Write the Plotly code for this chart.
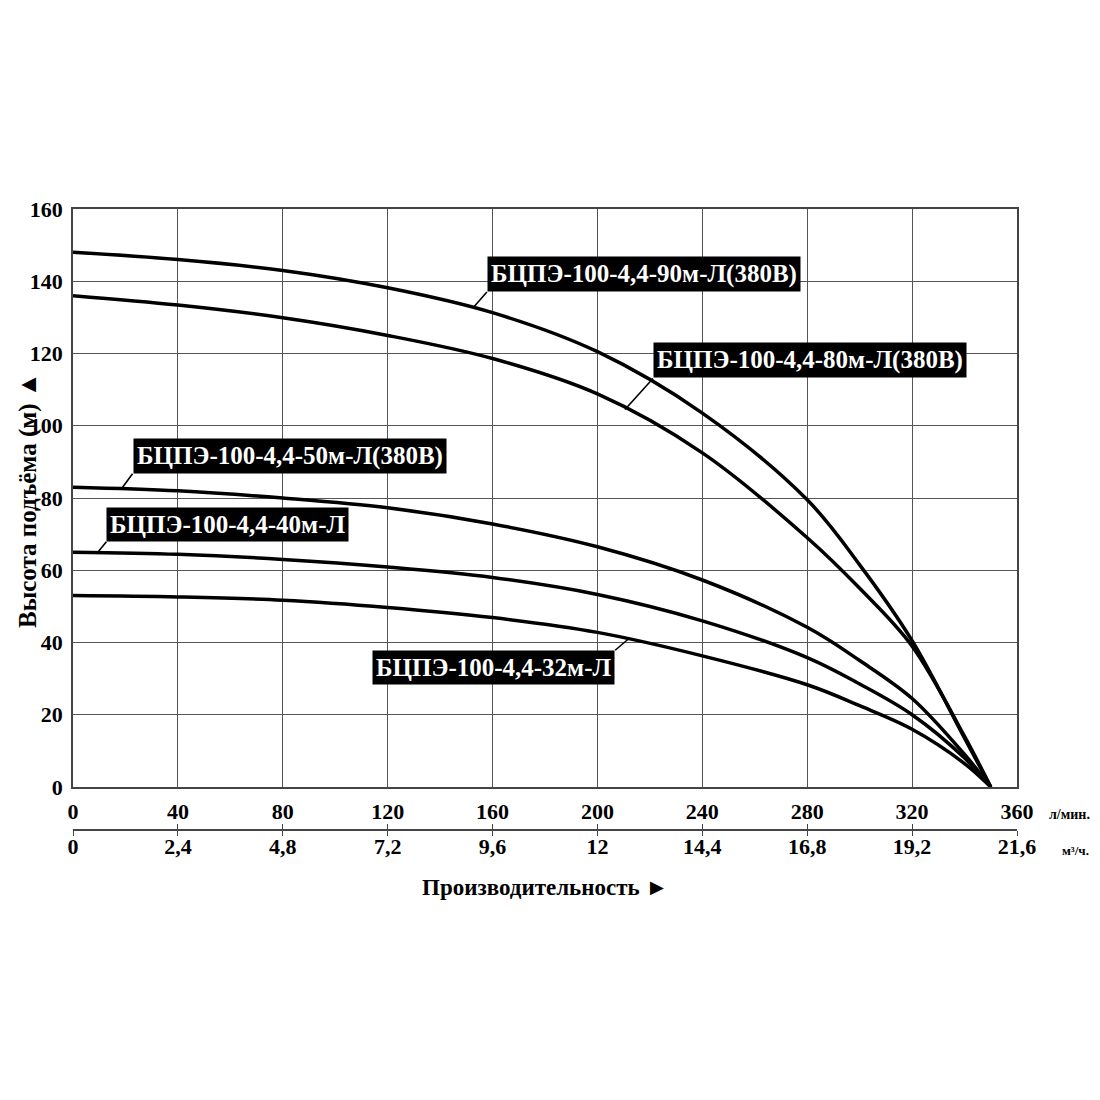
import numpy as np
import plotly.graph_objects as go

# flow, l/min
flow_lpm = [0, 40, 80, 120, 160, 200, 240, 280, 300, 320, 340, 350]

# head, m
head_90 = [148, 146, 143, 138.2, 131.3, 120.5, 103.5, 79.5, 61.5, 40.5, 13.5, 0]
head_80 = [136, 133.4, 129.9, 125, 118.6, 108.8, 92.5, 69, 55, 39, 14, 0]
head_50 = [83, 82, 80, 77.3, 72.8, 66.5, 57.3, 44.2, 35, 24.5, 9, 0]
head_40 = [65, 64.4, 63, 60.9, 58, 53.3, 46, 35.8, 28.5, 20, 8, 0]
head_32 = [53, 52.6, 51.7, 49.7, 46.9, 42.8, 36.3, 28.3, 22.5, 16, 6.5, 0]

names = ['БЦПЭ-100-4,4-90м-Л(380В)', 'БЦПЭ-100-4,4-80м-Л(380В)', 'БЦПЭ-100-4,4-50м-Л(380В)',
         'БЦПЭ-100-4,4-40м-Л', 'БЦПЭ-100-4,4-32м-Л']

lpm_ticks = [0, 40, 80, 120, 160, 200, 240, 280, 320, 360]
m3h_ticks = [0, 2.4, 4.8, 7.2, 9.6, 12, 14.4, 16.8, 19.2, 21.6]
m3h_labels = ['0', '2,4', '4,8', '7,2', '9,6', '12', '14,4', '16,8', '19,2', '21,6']
head_ticks = [0, 20, 40, 60, 80, 100, 120, 140, 160]

series = [head_90, head_80, head_50, head_40, head_32]

# label placement: (flow where the leader touches the curve, tail dx, tail dy, xanchor, yanchor)
label_pos = [
    (152.5, 14, -16, 'left', 'bottom'),
    (210.5, 28, -31, 'left', 'bottom'),
    (18.5, 11, -15, 'left', 'bottom'),
    (9.3, 9, -11, 'left', 'bottom'),
    (211.7, -13, 11, 'right', 'top'),
]

SERIF = 'Liberation Serif'
OFF = 8  # page body margin
W, H = 1092, 1084
L, T = 73 - OFF, 209 - OFF
R = W - (1017 - OFF)
B = H - (830 - OFF)  # paper spans screen px 209..830
PH = H - T - B
PW = W - L - R


def xp(sx):
    return (sx - OFF - L) / PW


def yp(sy):
    return (H - B - (sy - OFF)) / PH


fig = go.Figure()
for h in series:
    fig.add_trace(go.Scatter(x=flow_lpm, y=h, mode='lines',
                             line=dict(color='black', width=3.5, shape='spline', smoothing=1.0),
                             showlegend=False, hoverinfo='skip'))

# invisible traces so the m3/h axes get drawn
for ax in ('x2', 'x3'):
    fig.add_trace(go.Scatter(x=[0, 21.6], y=[0, 0], xaxis=ax, mode='lines', line=dict(width=0),
                             showlegend=False, hoverinfo='skip'))

annotations = []
for name, h, (fx, dx, dy, xa, ya) in zip(names, series, label_pos):
    annotations.append(dict(x=fx, y=float(np.interp(fx, flow_lpm, h)), xref='x', yref='y', text=name,
                            showarrow=True, arrowhead=0, arrowwidth=1.6, arrowcolor='black', ax=dx, ay=dy,
                            xanchor=xa, yanchor=ya, bgcolor='black', borderpad=3,
                            font=dict(family=SERIF, size=25, color='white', weight='bold')))

annotations += [
    dict(x=xp(28), y=yp(500), xref='paper', yref='paper', text='Высота подъёма (м) ▲', textangle=-90,
         xanchor='center', yanchor='middle', showarrow=False,
         font=dict(family=SERIF, size=25, color='black', weight='bold')),
    dict(x=xp(1047), y=yp(814), xref='paper', yref='paper', text='л/мин.', xanchor='left', yanchor='middle',
         showarrow=False, font=dict(family=SERIF, size=14, color='black', weight='bold')),
    dict(x=xp(1060), y=yp(850), xref='paper', yref='paper', text='м³/ч.', xanchor='left', yanchor='middle',
         showarrow=False, font=dict(family=SERIF, size=13, color='black', weight='bold')),
    dict(x=xp(545), y=yp(887), xref='paper', yref='paper', text='Производительность ►', xanchor='center',
         yanchor='middle', showarrow=False, font=dict(family=SERIF, size=23, color='black', weight='bold')),
]

tickfont = dict(family=SERIF, size=22, color='black', weight='bold')
fig.update_layout(
    width=W, height=H, margin=dict(l=L, r=R, t=T, b=B),
    paper_bgcolor='white', plot_bgcolor='white',
    annotations=annotations,
    xaxis=dict(range=[0, 360], tickvals=lpm_ticks, showgrid=True, gridcolor='#555', gridwidth=1.4,
               showline=True, linecolor='#444', linewidth=1.6, mirror=True, zeroline=False,
               ticks='', ticklabelstandoff=4, tickfont=tickfont, anchor='y'),
    xaxis2=dict(range=[0, 21.6], overlaying='x', anchor='free', position=0, side='bottom',
                tickvals=m3h_ticks, ticktext=m3h_labels, showgrid=False, zeroline=False,
                showline=True, linecolor='#444', linewidth=1.6, ticks='inside', ticklen=5, tickwidth=1.4,
                tickcolor='#444', ticklabelstandoff=-3, tickfont=tickfont),
    xaxis3=dict(range=[0, 21.6], overlaying='x', anchor='free', position=0, side='bottom',
                tickvals=m3h_ticks, showticklabels=False, showgrid=False, zeroline=False, showline=False,
                ticks='outside', ticklen=5, tickwidth=1.4, tickcolor='#444'),
    yaxis=dict(range=[0, 160], tickvals=head_ticks, domain=[yp(787), 1], showgrid=True, gridcolor='#555',
               gridwidth=1.4, showline=True, linecolor='#444', linewidth=1.6, mirror=True, zeroline=False,
               ticks='', ticklabelstandoff=4, tickfont=tickfont),
)

fig.write_html('out.html')
